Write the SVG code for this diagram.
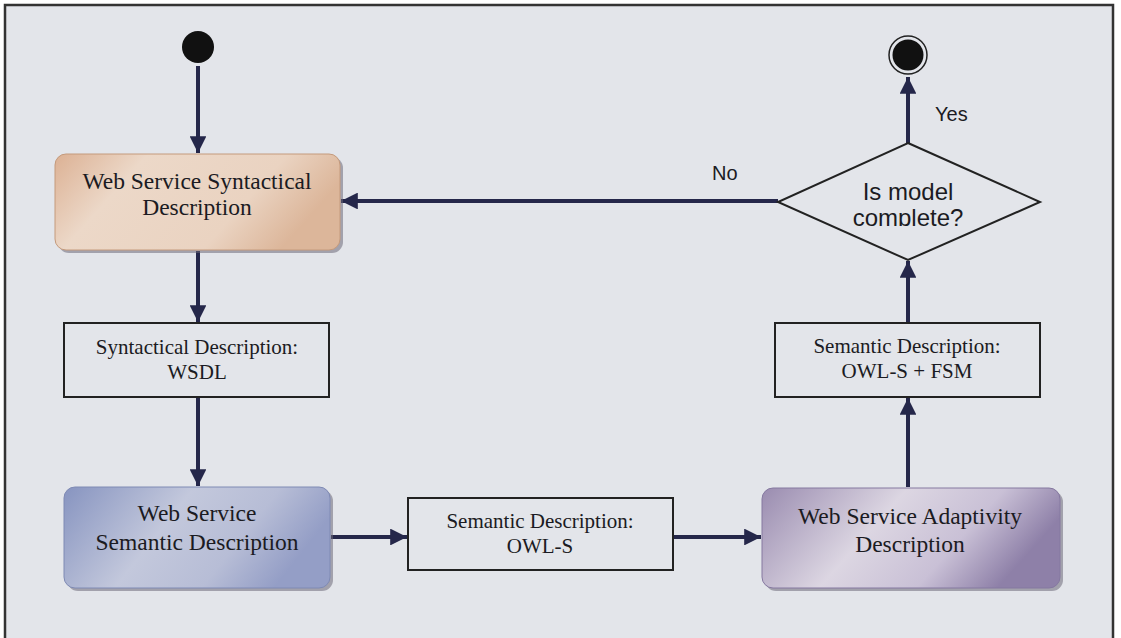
<svg xmlns="http://www.w3.org/2000/svg" width="1121" height="638" viewBox="0 0 1121 638">
  <defs>
    <style>
      .frame { fill: #e3e5ea; stroke: #333; stroke-width: 2.5; }
      .edge { fill: none; stroke: #25274a; stroke-width: 4; }
      .box { fill: none; stroke: #222; stroke-width: 2; }
      .shadow { fill: #6e6a78; opacity: 0.55; }
      .serif { font-family: "Liberation Serif", "Times New Roman", serif; fill: #1b1b22; text-anchor: middle; }
      .big { font-size: 23.5px; }
      .small { font-size: 21px; }
      .sans { font-family: "Liberation Sans", Arial, sans-serif; fill: #1b1b22; }
    </style>
    <marker id="arrow" viewBox="0 0 10 10" refX="10" refY="5" markerWidth="4.2" markerHeight="4.2" markerUnits="strokeWidth" orient="auto">
      <path d="M0,0 L10,5 L0,10 Z" fill="#25274a"/>
    </marker>
    <linearGradient id="gOrange" x1="0" y1="0" x2="1" y2="0.3">
      <stop offset="0" stop-color="#dcb194"/>
      <stop offset="0.3" stop-color="#ecd8c8"/>
      <stop offset="0.75" stop-color="#ead3c1"/>
      <stop offset="1" stop-color="#dcb69a"/>
    </linearGradient>
    <linearGradient id="gBlue" x1="0" y1="0" x2="1" y2="0.3">
      <stop offset="0" stop-color="#8794c0"/>
      <stop offset="0.45" stop-color="#c3c8dc"/>
      <stop offset="0.75" stop-color="#b7bdd6"/>
      <stop offset="1" stop-color="#949ec6"/>
    </linearGradient>
    <linearGradient id="gPurple" x1="0" y1="0" x2="1" y2="0.3">
      <stop offset="0" stop-color="#9a8cb0"/>
      <stop offset="0.45" stop-color="#dcd6e2"/>
      <stop offset="0.75" stop-color="#c9c0d6"/>
      <stop offset="1" stop-color="#8e80a8"/>
    </linearGradient>
    <clipPath id="diamondClip">
      <rect x="780" y="140" width="260" height="86"/>
    </clipPath>
  </defs>

  <!-- page frame -->
  <rect class="frame" x="5" y="5" width="1108" height="640"/>

  <!-- connectors -->
  <g id="connectors">
    <line class="edge" x1="198" y1="66" x2="198" y2="153" marker-end="url(#arrow)"/>
    <line class="edge" x1="198" y1="251" x2="198" y2="322" marker-end="url(#arrow)"/>
    <line class="edge" x1="198" y1="398" x2="198" y2="486" marker-end="url(#arrow)"/>
    <line class="edge" x1="331" y1="537" x2="407" y2="537" marker-end="url(#arrow)"/>
    <line class="edge" x1="674" y1="537" x2="761" y2="537" marker-end="url(#arrow)"/>
    <line class="edge" x1="908" y1="487" x2="908" y2="398" marker-end="url(#arrow)"/>
    <line class="edge" x1="908" y1="322" x2="908" y2="261" marker-end="url(#arrow)"/>
    <line class="edge" x1="908" y1="143" x2="908" y2="77" marker-end="url(#arrow)"/>
    <line class="edge" x1="778" y1="201" x2="341" y2="201" marker-end="url(#arrow)"/>
    <text class="sans" x="935" y="121" font-size="20">Yes</text>
    <text class="sans" x="712" y="180" font-size="20">No</text>
  </g>

  <!-- start node -->
  <g id="start">
    <circle cx="198" cy="47" r="16" fill="#111"/>
  </g>

  <!-- end node -->
  <g id="end">
    <circle cx="908" cy="55" r="19" fill="none" stroke="#222" stroke-width="1.5"/>
    <circle cx="908" cy="55" r="15.5" fill="#111"/>
  </g>

  <!-- Web Service Syntactical Description -->
  <g id="syntactical">
    <rect class="shadow" x="58" y="157" width="285" height="96" rx="11"/>
    <rect x="55" y="154" width="285" height="96" rx="11" fill="url(#gOrange)" stroke="#c49a7c" stroke-width="1"/>
    <text class="serif big" x="197" y="189">Web Service Syntactical</text>
    <text class="serif big" x="197" y="215">Description</text>
  </g>

  <!-- Syntactical Description: WSDL -->
  <g id="wsdl">
    <rect class="box" x="64" y="323" width="265" height="74" fill="#e3e5ea"/>
    <text class="serif small" x="197" y="354">Syntactical Description:</text>
    <text class="serif small" x="197" y="379">WSDL</text>
  </g>

  <!-- Web Service Semantic Description -->
  <g id="semantic">
    <rect class="shadow" x="67" y="490" width="266" height="101" rx="11"/>
    <rect x="64" y="487" width="266" height="101" rx="11" fill="url(#gBlue)" stroke="#7f8ab4" stroke-width="1"/>
    <text class="serif big" x="197" y="521">Web Service</text>
    <text class="serif big" x="197" y="550">Semantic Description</text>
  </g>

  <!-- Semantic Description: OWL-S -->
  <g id="owls">
    <rect class="box" x="408" y="498" width="265" height="72" fill="#e3e5ea"/>
    <text class="serif small" x="540" y="528">Semantic Description:</text>
    <text class="serif small" x="540" y="553">OWL-S</text>
  </g>

  <!-- Web Service Adaptivity Description -->
  <g id="adaptivity">
    <rect class="shadow" x="765" y="491" width="298" height="100" rx="11"/>
    <rect x="762" y="488" width="298" height="100" rx="11" fill="url(#gPurple)" stroke="#8578a0" stroke-width="1"/>
    <text class="serif big" x="910" y="524">Web Service Adaptivity</text>
    <text class="serif big" x="910" y="552">Description</text>
  </g>

  <!-- Semantic Description: OWL-S + FSM -->
  <g id="owlsfsm">
    <rect class="box" x="775" y="323" width="265" height="74" fill="#e3e5ea"/>
    <text class="serif small" x="907" y="353">Semantic Description:</text>
    <text class="serif small" x="907" y="378">OWL-S + FSM</text>
  </g>

  <!-- decision -->
  <g id="decision">
    <polygon points="908,143 1040,202 908,260 778,202" fill="#e3e5ea" stroke="#222" stroke-width="2"/>
    <g clip-path="url(#diamondClip)">
      <text class="sans" x="908" y="200" font-size="24" text-anchor="middle">Is model</text>
      <text class="sans" x="908" y="226" font-size="24" text-anchor="middle">complete?</text>
    </g>
  </g>
</svg>
